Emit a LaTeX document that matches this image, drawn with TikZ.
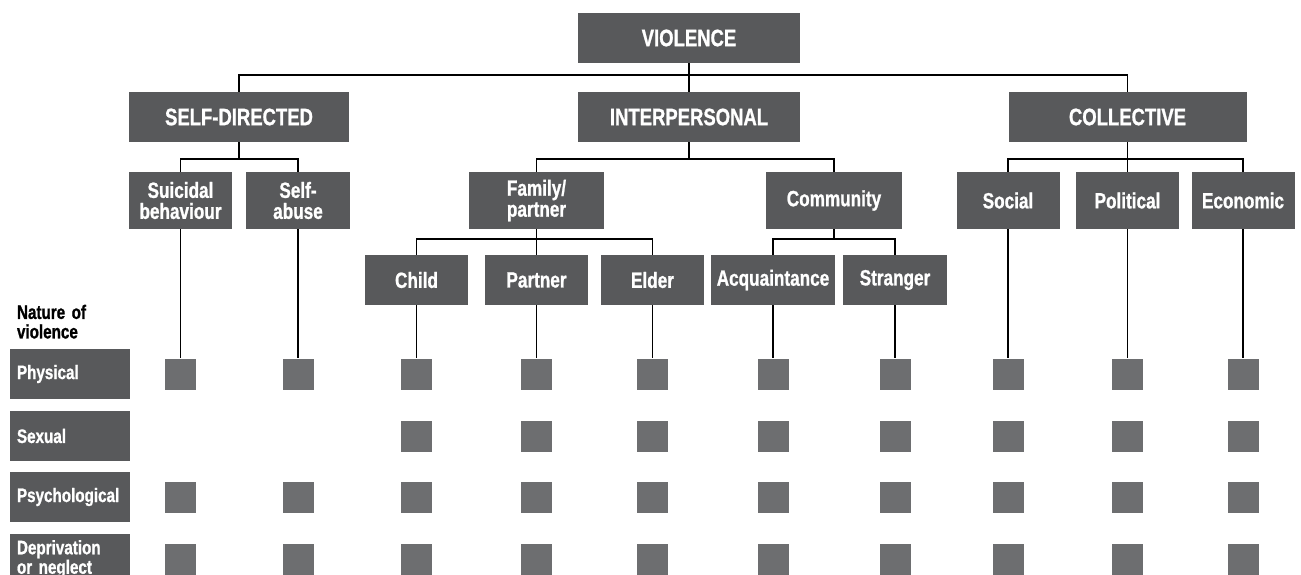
\documentclass[tikz,border=0pt]{standalone}
\usepackage{fontspec}
\setmainfont{Liberation Sans}[FakeStretch=0.78, BoldFeatures={FakeBold=1}]
\usetikzlibrary{positioning}
\definecolor{boxGray}{RGB}{88,89,91}
\definecolor{cellGray}{RGB}{109,110,112}
\tikzset{
    box/.style={fill=boxGray, text=white, inner sep=0pt, align=center},
    topbox/.style={box, minimum height=50pt, font=\fontsize{23.7}{23}\selectfont\bfseries},
    midbox/.style={box, minimum width=103pt, minimum height=57pt, font=\fontsize{22}{21}\selectfont\bfseries},
    leafbox/.style={box, minimum width=103pt, minimum height=50pt, font=\fontsize{22}{21}\selectfont\bfseries},
    kindbox/.style={box, minimum width=120pt, minimum height=50pt, text width=106pt, align=left, font=\fontsize{19.5}{19.5}\selectfont\bfseries},
    cell/.style={fill=cellGray, minimum size=31pt, inner sep=0pt},
    link/.style={line width=1.1pt}
}

\begin{document}
\begin{tikzpicture}[x=1pt, y=-1pt]
    \useasboundingbox (0,0) rectangle (1301,575);
    \coordinate (bar0) at (0,75);
    \coordinate (bar1) at (0,159);
    \coordinate (bar2) at (0,239);

    % levels
    \node[topbox, minimum width=222pt] (violence) at (689,38) {VIOLENCE};
    \node[topbox, minimum width=220pt] (selfdir) at (239,117) {SELF-DIRECTED};
    \node[topbox, minimum width=222pt] (interp) at (689,117) {INTERPERSONAL};
    \node[topbox, minimum width=238pt] (collective) at (1127.5,117) {COLLECTIVE};

    \node[midbox] (suic) at (180.5,200.5) {Suicidal\\behaviour};
    \node[midbox, minimum width=104pt] (selfab) at (298,200.5) {Self-\\abuse};
    \node[midbox, minimum width=135pt] (family) at (536.5,200.5) {Family/\\partner};
    \node[midbox, minimum width=136pt] (community) at (834,200.5) {Community};
    \node[midbox] (social) at (1008,200.5) {Social};
    \node[midbox] (political) at (1127.5,200.5) {Political};
    \node[midbox] (economic) at (1243,200.5) {Economic};

    \node[leafbox] (child) at (416.5,280) {Child};
    \node[leafbox] (partner) at (536.5,280) {Partner};
    \node[leafbox] (elder) at (652.5,280) {Elder};
    \node[leafbox, minimum width=124pt] (acq) at (773,280) {Acquaintance};
    \node[leafbox, minimum width=104pt] (stranger) at (895,280) {Stranger};

    % tree
    \draw[link] (violence.south) -- (interp.north);
    \draw[link] (selfdir.north) |- (collective.north |- bar0) -- (collective.north);
    \draw[link] (selfdir.south) -- (selfdir.south |- bar1);
    \draw[link] (suic.north) |- (selfab.north |- bar1) -- (selfab.north);
    \draw[link] (interp.south) -- (interp.south |- bar1);
    \draw[link] (family.north) |- (community.north |- bar1) -- (community.north);
    \draw[link] (collective.south) -- (political.north);
    \draw[link] (social.north) |- (economic.north |- bar1) -- (economic.north);
    \draw[link] (family.south) -- (partner.north);
    \draw[link] (child.north) |- (elder.north |- bar2) -- (elder.north);
    \draw[link] (community.south) -- (community.south |- bar2);
    \draw[link] (acq.north) |- (stranger.north |- bar2) -- (stranger.north);

    % nature of violence
    \node[kindbox] (physical) at (70,374) {Physical};
    \node[kindbox] (sexual) at (70,436) {Sexual};
    \node[kindbox] (psych) at (70,497) {Psychological};
    \node[kindbox] (depriv) at (70,559) {Deprivation\\or neglect};
    \node[above right=10pt and 7pt of physical.north west, inner sep=0pt, text width=110pt, align=left,
          font=\fontsize{19.5}{19.5}\selectfont\bfseries] (nature) {Nature of\\violence};

    \foreach \col in {suic,selfab,child,partner,elder,acq,stranger,social,political,economic} {
        \node[cell] (\col-1) at (\col |- physical) {};
        \node[cell] (\col-3) at (\col |- psych) {};
        \node[cell] (\col-4) at (\col |- depriv) {};
        \draw[link] (\col.south) -- (\col-1.north);
    }
    \foreach \col in {child,partner,elder,acq,stranger,social,political,economic}
        \node[cell] (\col-2) at (\col |- sexual) {};
\end{tikzpicture}
\end{document}
